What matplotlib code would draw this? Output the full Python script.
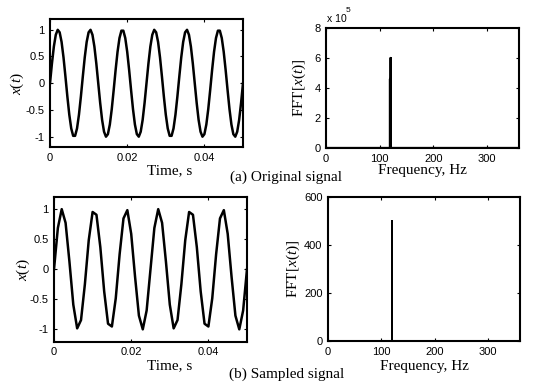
import numpy as np
import matplotlib
matplotlib.use('Agg')
import matplotlib.pyplot as plt
from matplotlib.ticker import FuncFormatter

plt.rcParams['font.family'] = 'Liberation Sans'
plt.rcParams['mathtext.fontset'] = 'custom'
plt.rcParams['mathtext.rm'] = 'Liberation Serif'
plt.rcParams['mathtext.it'] = 'Liberation Serif:italic'

# original signal, read every 0.5 ms over 0..0.05 s
x_orig = [0.000, 0.368, 0.685, 0.905, 0.998, 0.951, 0.771, 0.482, 0.125, -0.249,
          -0.588, -0.844, -0.982, -0.982, -0.844, -0.588, -0.249, 0.125, 0.482, 0.771,
          0.951, 0.998, 0.905, 0.685, 0.368, 0.000, -0.368, -0.685, -0.905, -0.998,
          -0.951, -0.771, -0.482, -0.125, 0.249, 0.588, 0.844, 0.982, 0.982, 0.844,
          0.588, 0.249, -0.125, -0.482, -0.771, -0.951, -0.998, -0.905, -0.685, -0.368,
          0.000, 0.368, 0.685, 0.905, 0.998, 0.951, 0.771, 0.482, 0.125, -0.249,
          -0.588, -0.844, -0.982, -0.982, -0.844, -0.588, -0.249, 0.125, 0.482, 0.771,
          0.951, 0.998, 0.905, 0.685, 0.368, 0.000, -0.368, -0.685, -0.905, -0.998,
          -0.951, -0.771, -0.482, -0.125, 0.249, 0.588, 0.844, 0.982, 0.982, 0.844,
          0.588, 0.249, -0.125, -0.482, -0.771, -0.951, -0.998, -0.905, -0.685, -0.368,
          0.000]

# sampled signal, 1 ms steps
x_samp = [0.000, 0.685, 0.998, 0.771, 0.125, -0.588, -0.982, -0.844, -0.249, 0.482,
          0.951, 0.905, 0.368, -0.368, -0.905, -0.951, -0.482, 0.249, 0.844, 0.982,
          0.588, -0.125, -0.771, -0.998, -0.685, 0.000, 0.685, 0.998, 0.771, 0.125,
          -0.588, -0.982, -0.844, -0.249, 0.482, 0.951, 0.905, 0.368, -0.368, -0.905,
          -0.951, -0.482, 0.249, 0.844, 0.982, 0.588, -0.125, -0.771, -0.998, -0.685,
          0.000]

# spectra
f_orig = [0, 119.4, 119.4, 119.4, 120.6, 120.6, 120.6, 360]
mag_orig = [0, 0, 4.6e5, 0, 0, 6.0e5, 0, 0]
f_samp = [0, 120, 120, 120, 360]
mag_samp = [0, 0, 500, 0, 0]

t_orig = np.linspace(0, 0.05, len(x_orig))
t_samp = np.linspace(0, 0.05, len(x_samp))

W, H = 535, 384
fig = plt.figure(figsize=(W / 100, H / 100), dpi=100)


def box(l, t, r, b):
    return [l / W, 1 - b / H, (r - l) / W, (b - t) / H]


ax1 = fig.add_axes(box(50, 19, 243, 147.5))
ax2 = fig.add_axes(box(326, 28, 519, 148))
ax3 = fig.add_axes(box(54, 197, 247, 341.5))
ax4 = fig.add_axes(box(328, 197, 520, 341))

ax1.plot(t_orig, x_orig, color='k', lw=1.8)
ax3.plot(t_samp, x_samp, color='k', lw=1.8)
ax2.plot(f_orig, mag_orig, color='k', lw=1.6, snap=False)
ax4.plot(f_samp, mag_samp, color='k', lw=1.4)

serif = 'Liberation Serif'
for ax in (ax1, ax3):
    ax.set_xlim(0, 0.05)
    ax.set_ylim(-1.2, 1.2)
    ax.set_xticks([0, 0.02, 0.04])
    ax.set_xticklabels(['0', '0.02', '0.04'])
    ax.set_yticks([-1, -0.5, 0, 0.5, 1])
    ax.set_yticklabels(['-1', '-0.5', '0', '0.5', '1'])
    ax.set_ylabel('$x(t)$', fontsize=11)
    ax.set_xlabel('Time, s', fontsize=11, family=serif)

for ax in (ax2, ax4):
    ax.set_xlim(0, 360)
    ax.set_xticks([0, 100, 200, 300])
    ax.set_ylabel('FFT[$x$($t$)]', fontsize=11, family=serif)
    ax.set_xlabel('Frequency, Hz', fontsize=11, family=serif)

ax2.set_ylim(0, 8e5)
ax2.set_yticks([0, 2e5, 4e5, 6e5, 8e5])
ax2.yaxis.set_major_formatter(FuncFormatter(lambda v, p: '%d' % round(v / 1e5)))
fig.text(327 / W, 1 - 19 / H, 'x 10', fontsize=7.5, va='center', ha='left')
fig.text(346 / W, 1 - 10 / H, '5', fontsize=6, va='center', ha='left')

ax4.set_ylim(0, 600)
ax4.set_yticks([0, 200, 400, 600])

for ax in (ax1, ax2, ax3, ax4):
    for s in ax.spines.values():
        s.set_linewidth(1.5)
    ax.tick_params(direction='in', top=True, right=True, length=2.5, width=0.8,
                   labelsize=8, pad=4)

ax1.xaxis.set_label_coords(0.62, -0.13)
ax3.xaxis.set_label_coords(0.6, -0.12)
ax1.yaxis.set_label_coords(-0.124, 0.5)
ax3.yaxis.set_label_coords(-0.114, 0.5)
ax2.xaxis.set_label_coords(0.5, -0.13)
ax4.xaxis.set_label_coords(0.5, -0.13)
ax2.yaxis.set_label_coords(-0.093, 0.5)
ax4.yaxis.set_label_coords(-0.135, 0.5)

fig.text(286 / W, 1 - 177 / H, '(a) Original signal', fontsize=11, family=serif,
         ha='center', va='center')
fig.text(287 / W, 1 - 374 / H, '(b) Sampled signal', fontsize=11, family=serif,
         ha='center', va='center')

fig.savefig('out.png', dpi=100)
